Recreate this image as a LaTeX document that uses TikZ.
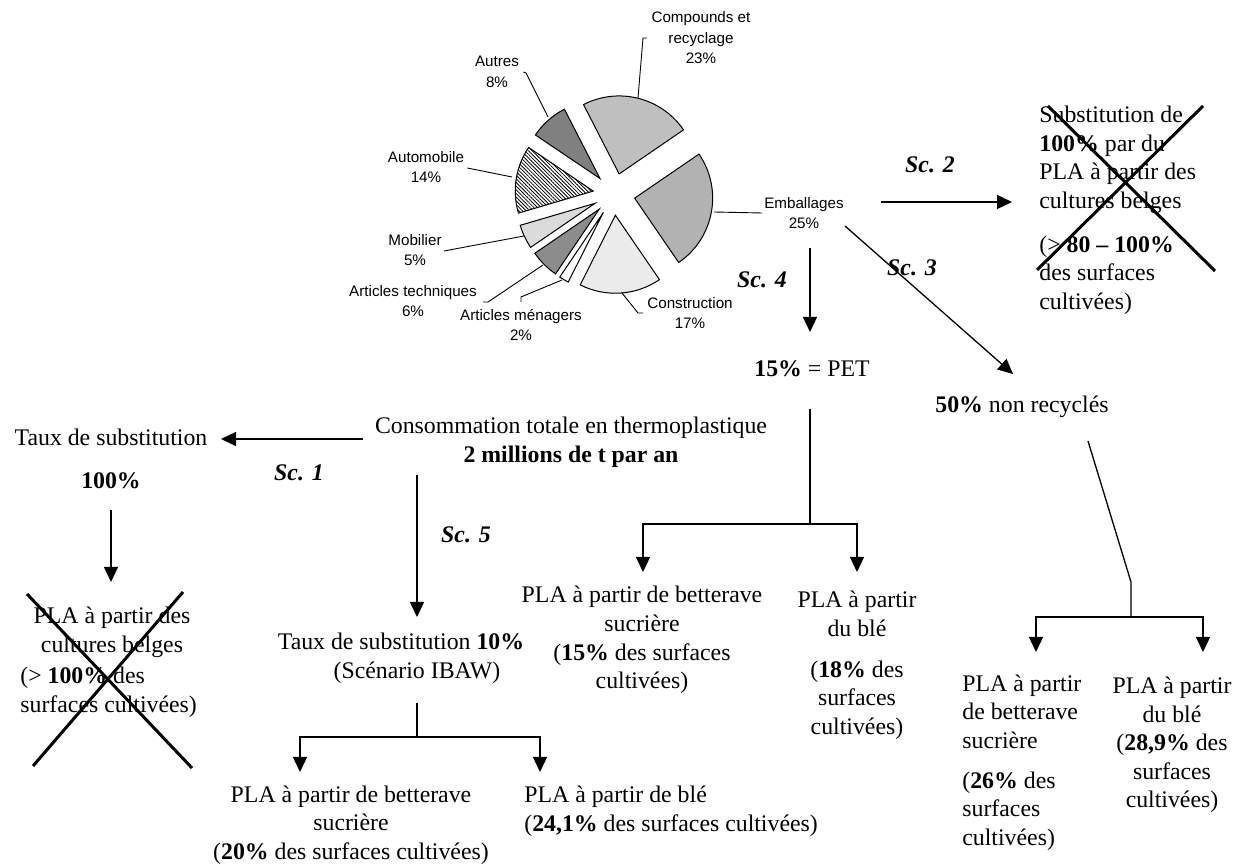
\documentclass[tikz,border=0pt]{standalone}
\usepackage{fontspec}
\setmainfont{Liberation Serif}
\newfontfamily\arialfont{Liberation Sans}
\usetikzlibrary{arrows.meta,calc,patterns.meta}

% one exploded pie slice: start angle, end angle (degrees, clockwise), style
\newcommand\pieslice[3]{%
  \pgfmathsetmacro\slA{-(#1)}%
  \pgfmathsetmacro\slB{-(#2)}%
  \pgfmathsetmacro\slM{(\slA+\slB)/2}%
  \filldraw[slice,#3] (\slM:21) -- ++(\slA:78)
    arc[start angle=\slA,end angle=\slB,radius=78] -- cycle;}

\begin{document}
\begin{tikzpicture}[x=0.5pt,y=-0.5pt,
  txt/.style={font=\fontsize{11.9pt}{14.3pt}\selectfont,inner sep=0pt,align=center},
  txtl/.style={txt,align=left,anchor=west},
  sclab/.style={inner sep=0pt,font=\fontsize{11.9pt}{14.3pt}\selectfont\bfseries\itshape},
  pielab/.style={font=\arialfont\fontsize{7.6pt}{10.25pt}\selectfont,inner sep=0pt,align=center},
  conn/.style={line width=0.65pt},
  arr/.style={conn,-{Triangle[length=7.5pt,width=7pt]}},
  crossout/.style={line width=1.5pt},
  slice/.style={draw=black,line width=0.5pt},
  leader/.style={line width=0.45pt},
]
\useasboundingbox (0,0) rectangle (1244,865);

% ---------- pie chart of thermoplastic uses ----------
\begin{scope}[shift={(614,194.3)}]
  \pieslice{117.2}{34.4}{fill=black!25}      % Compounds et recyclage
  \pieslice{34.4}{-55.6}{fill=black!30}      % Emballages
  \pieslice{-55.6}{-116.8}{fill=black!8}     % Construction
  \pieslice{-116.8}{-124.0}{fill=white}      % Articles ménagers
  \pieslice{-124.0}{-145.6}{fill=black!45}   % Articles techniques
  \pieslice{-145.6}{-163.6}{fill=black!14}   % Mobilier
  \pieslice{-163.6}{-214.0}{pattern={Lines[angle=-45,distance=1.3pt,line width=0.4pt]}} % Automobile
  \pieslice{-214.0}{-242.8}{fill=black!50}   % Autres
\end{scope}

\node[pielab] (comp) at (701,38) {Compounds et\\recyclage\\23\%};
\node[pielab] (aut)  at (497,72) {Autres\\8\%};
\node[pielab] (auto) at (426,167) {Automobile\\14\%};
\node[pielab] (mob)  at (415,250) {Mobilier\\5\%};
\node[pielab] (tech) at (413,301) {Articles techniques\\6\%};
\node[pielab] (men)  at (521,325) {Articles ménagers\\2\%};
\node[pielab] (pcons) at (690,313) {Construction\\17\%};
\node[pielab] (emb)  at (804,213) {Emballages\\25\%};

\coordinate (sComp) at (638,98);
\coordinate (sAut)  at (548,117);
\coordinate (sAuto) at (512,177);
\coordinate (sMob)  at (524,236);
\coordinate (sTech) at (543,265);
\coordinate (sMen)  at (562,280);
\coordinate (sCons) at (622,293);
\coordinate (sEmb)  at (714,212);

\draw[leader] (sComp) -- (643,38) -- ([xshift=-2pt]comp.west);
\draw[leader] (sAut) -- (526,73) -- ([xshift=2pt]aut.east);
\draw[leader] (sAuto) -- ([xshift=1.5pt]auto.north east |- 0,168);
\draw[leader] (sMob) -- ([xshift=1pt]mob.east |- 0,251);
\draw[leader] (sTech) -- (488,302) -- (483,302);
\draw[leader] (sMen) -- (521,297) -- (521,302);
\draw[leader] (sCons) -- (638,313) -- ([xshift=-2pt]pcons.west |- 0,313);
\draw[leader] (sEmb) -- ([xshift=-1pt]emb.west |- 0,213);

% ---------- scenario 2 ----------
\node[sclab] (sc2) at (930,165) {Sc. 2};
\node[txtl] (subA) at (1039,160) {Substitution de\\\textbf{100\%} par du\\PLA à partir des\\cultures belges};
\node[txtl] (subB) at (1039,275) {(> \textbf{80 – 100\%}\\des surfaces\\cultivées)};
\coordinate (a2s) at (881,202);
\coordinate (a2e) at (1012,202);
\draw[arr] (a2s) -- (a2e);
\draw[crossout] (1048,106) -- (1215,271);
\draw[crossout] (1203,106) -- (1037,270);

% ---------- scenario 4 ----------
\node[sclab] (sc4) at (762,280) {Sc. 4};
\draw[arr] (810,248) -- (810,332);
\node[txt] (pet) at (812,369) {\textbf{15\%} = PET};
\coordinate (jPet) at (810,524);
\draw[conn] (810,409) -- (jPet);
\draw[arr] (jPet) -| (643,572);
\draw[arr] (jPet) -| (857,572);
\node[txt] (pla15) at (642,640) {PLA à partir de betterave\\sucrière\\(\textbf{15\%} des surfaces\\cultivées)};
\node[txt] (pla18a) at (857,614) {PLA à partir\\du blé};
\node[txt] (pla18b) at (857,700) {(\textbf{18\%} des\\surfaces\\cultivées)};

% ---------- scenario 3 ----------
\node[sclab] (sc3) at (912,268) {Sc. 3};
\draw[arr] (845,226) -- (1013,374);
\node[txt] (nr) at (1022,407) {\textbf{50\%} non recyclés};
\coordinate (jNr) at (1131,617);
\draw[conn] (1088,441) -- (1131,582) -- (jNr);
\draw[arr] (jNr) -| (1036,652);
\draw[arr] (jNr) -| (1203,652);
\node[txtl] (pla26a) at (962,711.5) {PLA à partir\\de betterave\\sucrière};
\node[txtl] (pla26b) at (962,811) {(\textbf{26\%} des\\surfaces\\cultivées)};
\node[txt] (pla289) at (1172,745) {PLA à partir\\du blé\\(\textbf{28,9\%} des\\surfaces\\cultivées)};

% ---------- total consumption, scenarios 1 and 5 ----------
\node[txt] (total) at (571,442) {Consommation totale en thermoplastique\\\textbf{2 millions de t par an}};
\node[txt] (taux) at (111,437) {Taux de substitution};
\node[txt] (t100) at (111,481) {\textbf{100\%}};
\draw[arr] (363,439) -- (221,439);
\node[sclab] (sc1) at (299,473) {Sc. 1};
\draw[arr] (111,510) -- (111,582);
\node[txt] (plaC) at (112,632) {PLA à partir des\\cultures belges};
\node[txtl] (plaCb) at (20,692.5) {(> \textbf{100\%} des\\surfaces cultivées)};
\draw[crossout] (27,594) -- (192,768);
\draw[crossout] (183,592) -- (33,766);

\draw[arr] (417,475) -- (417,617);
\node[sclab] (sc5) at (466,535) {Sc. 5};
\node[txt] (t10) at (401,641) {Taux de substitution \textbf{10\%}};
\node[txt] (ibaw) at (417,673) {(Scénario IBAW)};
\coordinate (jIbaw) at (417,737);
\draw[conn] (417,703) -- (jIbaw);
\draw[arr] (jIbaw) -| (300,772);
\draw[arr] (jIbaw) -| (540,772);
\node[txt] (pla20) at (351,825) {PLA à partir de betterave\\sucrière\\(\textbf{20\%} des surfaces cultivées)};
\node[txtl] (pla24) at (524,811) {PLA à partir de blé\\(\textbf{24,1\%} des surfaces cultivées)};
\end{tikzpicture}
\end{document}
